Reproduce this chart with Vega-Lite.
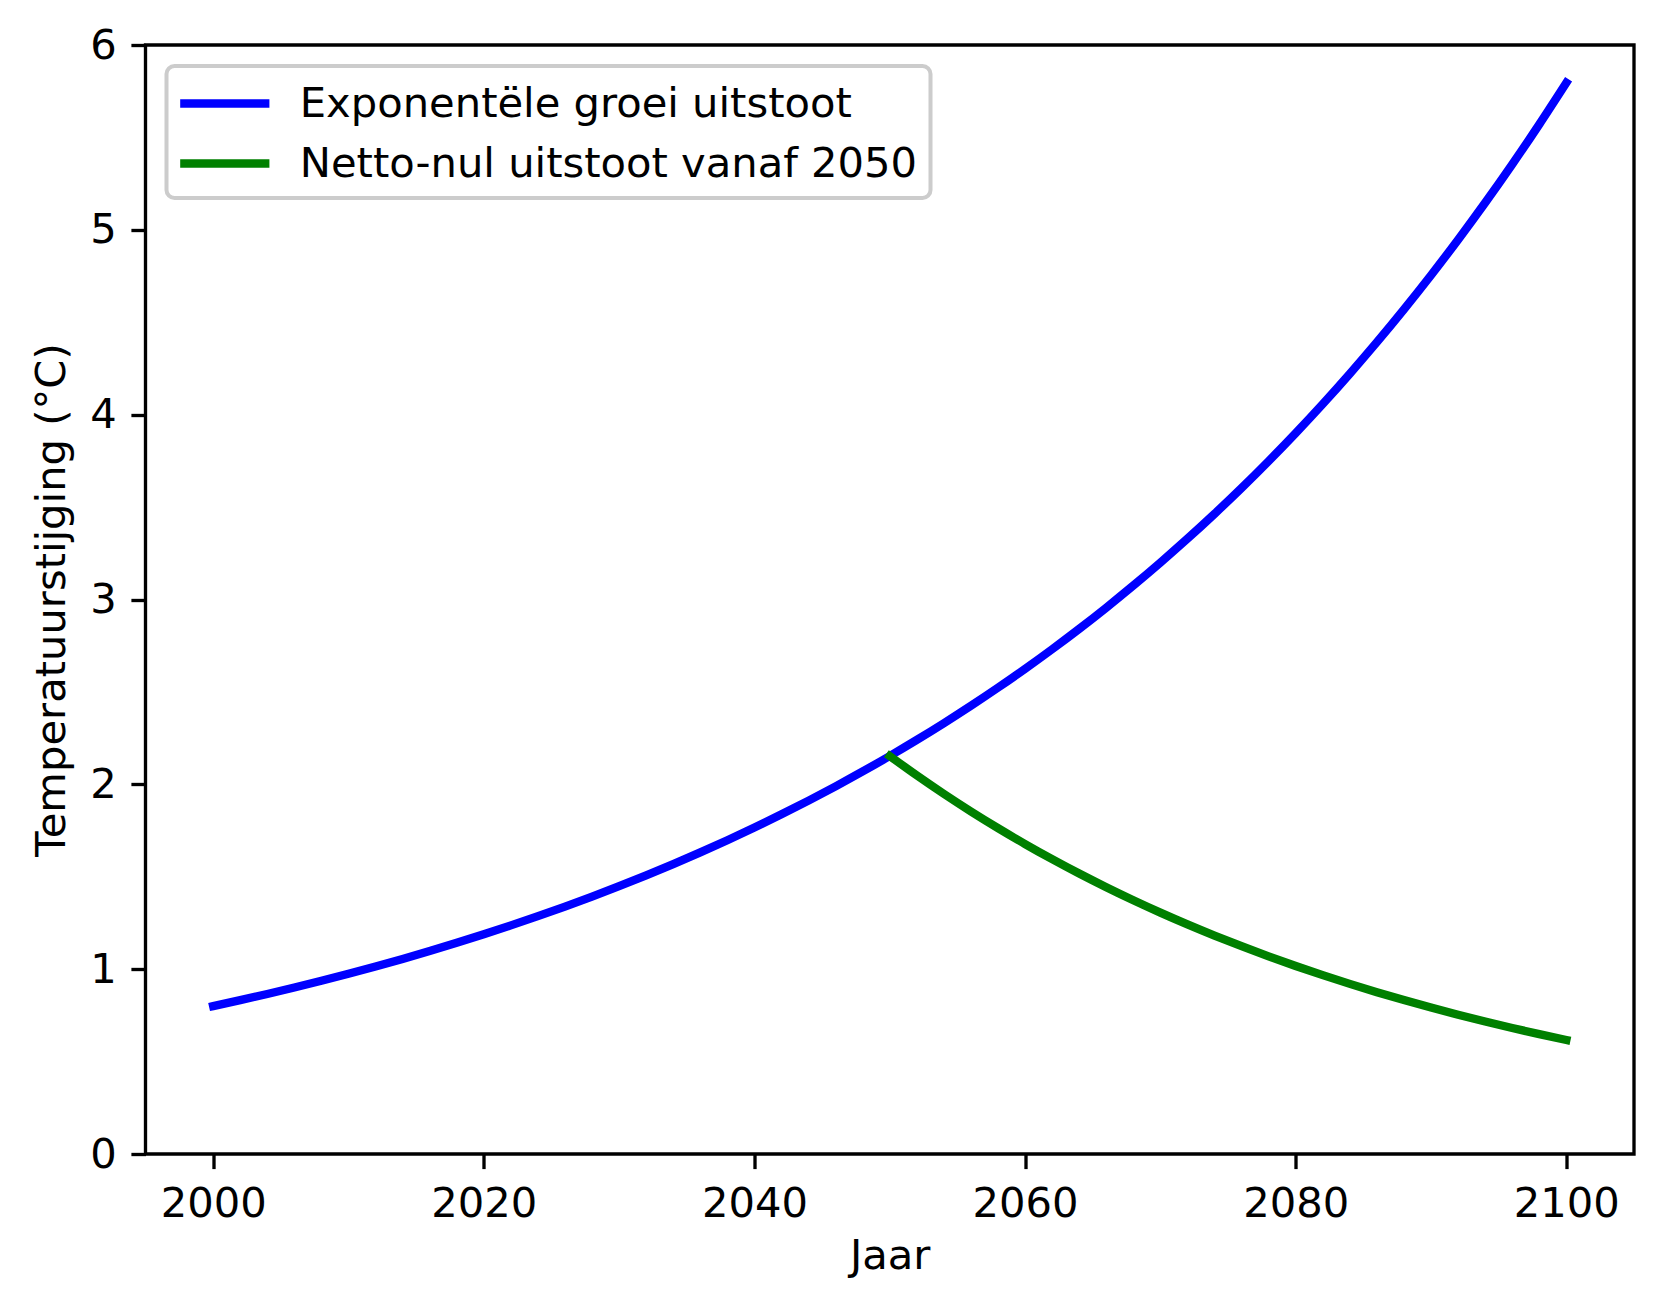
{
  "$schema": "https://vega.github.io/schema/vega-lite/v6.json",
  "autosize": {"type": "none"},
  "width": 1488.5,
  "height": 1109,
  "padding": {"left": 145.5, "top": 45, "right": 30, "bottom": 156},
  "background": "white",
  "config": {
    "font": "DejaVu Sans",
    "view": {"stroke": "#000000", "strokeWidth": 3.33},
    "axis": {
      "domain": false,
      "grid": false,
      "ticks": true,
      "tickColor": "#000000",
      "tickWidth": 3.33,
      "tickSize": 14.6,
      "labelPadding": 14.6,
      "labelFont": "DejaVu Sans",
      "labelFontSize": 41.67,
      "labelColor": "#000000",
      "titleFont": "DejaVu Sans",
      "titleFontSize": 41.67,
      "titleFontWeight": "normal",
      "titleColor": "#000000",
      "titlePadding": 16.7
    }
  },
  "datasets": {
    "curves": [
      {"jaar": 2000, "temp": 0.8, "scenario": "Exponentële groei uitstoot"},
      {"jaar": 2002, "temp": 0.8323, "scenario": "Exponentële groei uitstoot"},
      {"jaar": 2004, "temp": 0.8659, "scenario": "Exponentële groei uitstoot"},
      {"jaar": 2006, "temp": 0.9009, "scenario": "Exponentële groei uitstoot"},
      {"jaar": 2008, "temp": 0.9373, "scenario": "Exponentële groei uitstoot"},
      {"jaar": 2010, "temp": 0.9752, "scenario": "Exponentële groei uitstoot"},
      {"jaar": 2012, "temp": 1.0146, "scenario": "Exponentële groei uitstoot"},
      {"jaar": 2014, "temp": 1.0556, "scenario": "Exponentële groei uitstoot"},
      {"jaar": 2016, "temp": 1.0982, "scenario": "Exponentële groei uitstoot"},
      {"jaar": 2018, "temp": 1.1426, "scenario": "Exponentële groei uitstoot"},
      {"jaar": 2020, "temp": 1.1888, "scenario": "Exponentële groei uitstoot"},
      {"jaar": 2022, "temp": 1.2368, "scenario": "Exponentële groei uitstoot"},
      {"jaar": 2024, "temp": 1.2868, "scenario": "Exponentële groei uitstoot"},
      {"jaar": 2026, "temp": 1.3387, "scenario": "Exponentële groei uitstoot"},
      {"jaar": 2028, "temp": 1.3928, "scenario": "Exponentële groei uitstoot"},
      {"jaar": 2030, "temp": 1.4491, "scenario": "Exponentële groei uitstoot"},
      {"jaar": 2032, "temp": 1.5076, "scenario": "Exponentële groei uitstoot"},
      {"jaar": 2034, "temp": 1.5685, "scenario": "Exponentële groei uitstoot"},
      {"jaar": 2036, "temp": 1.6319, "scenario": "Exponentële groei uitstoot"},
      {"jaar": 2038, "temp": 1.6978, "scenario": "Exponentële groei uitstoot"},
      {"jaar": 2040, "temp": 1.7664, "scenario": "Exponentële groei uitstoot"},
      {"jaar": 2042, "temp": 1.8378, "scenario": "Exponentële groei uitstoot"},
      {"jaar": 2044, "temp": 1.912, "scenario": "Exponentële groei uitstoot"},
      {"jaar": 2046, "temp": 1.9893, "scenario": "Exponentële groei uitstoot"},
      {"jaar": 2048, "temp": 2.0697, "scenario": "Exponentële groei uitstoot"},
      {"jaar": 2050, "temp": 2.1533, "scenario": "Exponentële groei uitstoot"},
      {"jaar": 2052, "temp": 2.2403, "scenario": "Exponentële groei uitstoot"},
      {"jaar": 2054, "temp": 2.3308, "scenario": "Exponentële groei uitstoot"},
      {"jaar": 2056, "temp": 2.4249, "scenario": "Exponentële groei uitstoot"},
      {"jaar": 2058, "temp": 2.5229, "scenario": "Exponentële groei uitstoot"},
      {"jaar": 2060, "temp": 2.6248, "scenario": "Exponentële groei uitstoot"},
      {"jaar": 2062, "temp": 2.7309, "scenario": "Exponentële groei uitstoot"},
      {"jaar": 2064, "temp": 2.8412, "scenario": "Exponentële groei uitstoot"},
      {"jaar": 2066, "temp": 2.956, "scenario": "Exponentële groei uitstoot"},
      {"jaar": 2068, "temp": 3.0754, "scenario": "Exponentële groei uitstoot"},
      {"jaar": 2070, "temp": 3.1997, "scenario": "Exponentële groei uitstoot"},
      {"jaar": 2072, "temp": 3.3289, "scenario": "Exponentële groei uitstoot"},
      {"jaar": 2074, "temp": 3.4634, "scenario": "Exponentële groei uitstoot"},
      {"jaar": 2076, "temp": 3.6033, "scenario": "Exponentële groei uitstoot"},
      {"jaar": 2078, "temp": 3.7489, "scenario": "Exponentële groei uitstoot"},
      {"jaar": 2080, "temp": 3.9004, "scenario": "Exponentële groei uitstoot"},
      {"jaar": 2082, "temp": 4.0579, "scenario": "Exponentële groei uitstoot"},
      {"jaar": 2084, "temp": 4.2219, "scenario": "Exponentële groei uitstoot"},
      {"jaar": 2086, "temp": 4.3924, "scenario": "Exponentële groei uitstoot"},
      {"jaar": 2088, "temp": 4.5699, "scenario": "Exponentële groei uitstoot"},
      {"jaar": 2090, "temp": 4.7545, "scenario": "Exponentële groei uitstoot"},
      {"jaar": 2092, "temp": 4.9466, "scenario": "Exponentële groei uitstoot"},
      {"jaar": 2094, "temp": 5.1464, "scenario": "Exponentële groei uitstoot"},
      {"jaar": 2096, "temp": 5.3543, "scenario": "Exponentële groei uitstoot"},
      {"jaar": 2098, "temp": 5.5707, "scenario": "Exponentële groei uitstoot"},
      {"jaar": 2100, "temp": 5.7957, "scenario": "Exponentële groei uitstoot"},
      {"jaar": 2050, "temp": 2.1533, "scenario": "Netto-nul uitstoot vanaf 2050"},
      {"jaar": 2052, "temp": 2.0483, "scenario": "Netto-nul uitstoot vanaf 2050"},
      {"jaar": 2054, "temp": 1.9484, "scenario": "Netto-nul uitstoot vanaf 2050"},
      {"jaar": 2056, "temp": 1.8534, "scenario": "Netto-nul uitstoot vanaf 2050"},
      {"jaar": 2058, "temp": 1.763, "scenario": "Netto-nul uitstoot vanaf 2050"},
      {"jaar": 2060, "temp": 1.677, "scenario": "Netto-nul uitstoot vanaf 2050"},
      {"jaar": 2062, "temp": 1.5952, "scenario": "Netto-nul uitstoot vanaf 2050"},
      {"jaar": 2064, "temp": 1.5174, "scenario": "Netto-nul uitstoot vanaf 2050"},
      {"jaar": 2066, "temp": 1.4434, "scenario": "Netto-nul uitstoot vanaf 2050"},
      {"jaar": 2068, "temp": 1.373, "scenario": "Netto-nul uitstoot vanaf 2050"},
      {"jaar": 2070, "temp": 1.3061, "scenario": "Netto-nul uitstoot vanaf 2050"},
      {"jaar": 2072, "temp": 1.2424, "scenario": "Netto-nul uitstoot vanaf 2050"},
      {"jaar": 2074, "temp": 1.1818, "scenario": "Netto-nul uitstoot vanaf 2050"},
      {"jaar": 2076, "temp": 1.1241, "scenario": "Netto-nul uitstoot vanaf 2050"},
      {"jaar": 2078, "temp": 1.0693, "scenario": "Netto-nul uitstoot vanaf 2050"},
      {"jaar": 2080, "temp": 1.0172, "scenario": "Netto-nul uitstoot vanaf 2050"},
      {"jaar": 2082, "temp": 0.9675, "scenario": "Netto-nul uitstoot vanaf 2050"},
      {"jaar": 2084, "temp": 0.9204, "scenario": "Netto-nul uitstoot vanaf 2050"},
      {"jaar": 2086, "temp": 0.8755, "scenario": "Netto-nul uitstoot vanaf 2050"},
      {"jaar": 2088, "temp": 0.8328, "scenario": "Netto-nul uitstoot vanaf 2050"},
      {"jaar": 2090, "temp": 0.7922, "scenario": "Netto-nul uitstoot vanaf 2050"},
      {"jaar": 2092, "temp": 0.7535, "scenario": "Netto-nul uitstoot vanaf 2050"},
      {"jaar": 2094, "temp": 0.7168, "scenario": "Netto-nul uitstoot vanaf 2050"},
      {"jaar": 2096, "temp": 0.6818, "scenario": "Netto-nul uitstoot vanaf 2050"},
      {"jaar": 2098, "temp": 0.6486, "scenario": "Netto-nul uitstoot vanaf 2050"},
      {"jaar": 2100, "temp": 0.6169, "scenario": "Netto-nul uitstoot vanaf 2050"}
    ]
  },
  "data": {"name": "curves"},
  "mark": {"type": "line", "strokeWidth": 8.33, "strokeCap": "square", "interpolate": "monotone", "clip": true},
  "encoding": {
    "x": {
      "field": "jaar",
      "type": "quantitative",
      "title": "Jaar",
      "scale": {"domain": [1995, 2105], "nice": false, "zero": false},
      "axis": {"values": [2000, 2020, 2040, 2060, 2080, 2100], "format": "d", "titlePadding": 11}
    },
    "y": {
      "field": "temp",
      "type": "quantitative",
      "title": "Temperatuurstijging (°C)",
      "scale": {"domain": [0, 6], "nice": false},
      "axis": {"values": [0, 1, 2, 3, 4, 5, 6], "format": "d"}
    },
    "color": {
      "field": "scenario",
      "type": "nominal",
      "scale": {
        "domain": ["Exponentële groei uitstoot", "Netto-nul uitstoot vanaf 2050"],
        "range": ["#0000ff", "#008000"]
      },
      "legend": {
        "title": null,
        "orient": "top-left",
        "offset": 20.8,
        "padding": 12.5,
        "fillColor": "rgba(255,255,255,0.8)",
        "strokeColor": "#cccccc",
        "cornerRadius": 8,
        "symbolType": "M-2.15,0H2.15",
        "symbolSize": 1722,
        "symbolOffset": 20.8,
        "symbolStrokeWidth": 8.33,
        "labelFont": "DejaVu Sans",
        "labelFontSize": 41.67,
        "labelColor": "#000000",
        "labelOffset": 50,
        "labelLimit": 1000,
        "rowPadding": 13,
        "encode": {"legend": {"update": {"strokeWidth": {"value": 4}}}}
      }
    }
  }
}
